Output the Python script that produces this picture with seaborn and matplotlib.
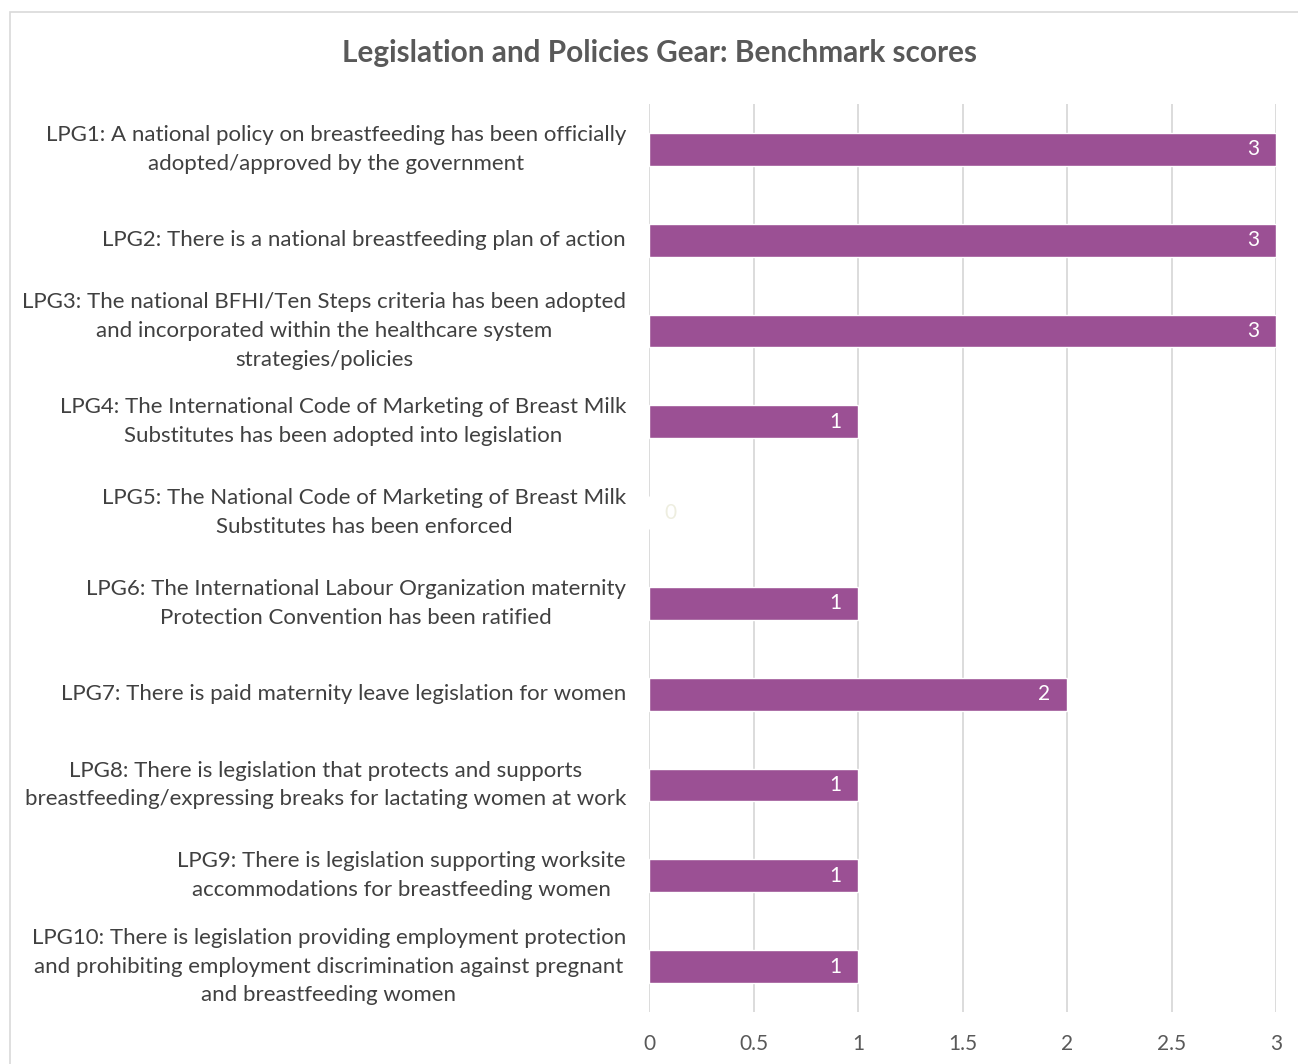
import matplotlib
matplotlib.use("Agg")
import matplotlib.pyplot as plt
import seaborn as sns
import pandas as pd
from matplotlib.patches import Rectangle

categories = [
    "LPG1: A national policy on breastfeeding has been officially\nadopted/approved by the government",
    "LPG2: There is a national breastfeeding plan of action",
    "LPG3: The national BFHI/Ten Steps criteria has been adopted\nand incorporated within the healthcare system\nstrategies/policies",
    "LPG4: The International Code of Marketing of Breast Milk\nSubstitutes has been adopted into legislation",
    "LPG5: The National Code of Marketing of Breast Milk\nSubstitutes has been enforced",
    "LPG6: The International Labour Organization maternity\nProtection Convention has been ratified",
    "LPG7: There is paid maternity leave legislation for women",
    "LPG8: There is legislation that protects and supports\nbreastfeeding/expressing breaks for lactating women at work",
    "LPG9: There is legislation supporting worksite\naccommodations for breastfeeding women",
    "LPG10: There is legislation providing employment protection\nand prohibiting employment discrimination against pregnant\nand breastfeeding women",
]
scores = [3, 3, 3, 1, 0, 1, 2, 1, 1, 1]
x_ticks = [0, 0.5, 1, 1.5, 2, 2.5, 3]
x_tick_labels = ["0", "0.5", "1", "1.5", "2", "2.5", "3"]
title = "Legislation and Policies Gear: Benchmark scores"

df = pd.DataFrame({"category": categories, "score": scores})

sns.set_theme(style="white")
plt.rcParams["font.family"] = ["Lato", "DejaVu Sans"]

W, H = 1298, 1064
fig = plt.figure(figsize=(W / 100, H / 100), dpi=100)
ax = fig.add_axes([649 / W, 1 - 1012 / H, (1276 - 649) / W, (1012 - 104) / H])

bar_color = "#9B5094"
sns.barplot(data=df, x="score", y="category", orient="h", color=bar_color,
            width=0.36, ax=ax, saturation=1)

ax.set_xlim(0, 3)
ax.set_ylim(len(categories) - 0.5, -0.5)
ax.set_xticks(x_ticks)
ax.set_xticklabels(x_tick_labels, fontsize=15, color="#595959")
ax.set_xlabel("")
ax.set_ylabel("")
ax.grid(axis="x", color="#d9d9d9", linewidth=1.3)
ax.set_axisbelow(True)
for s in ax.spines.values():
    s.set_visible(False)
ax.tick_params(axis="both", length=0)
ax.tick_params(axis="x", pad=16)
ax.tick_params(axis="y", pad=16.5)
for lbl in ax.get_yticklabels():
    lbl.set_fontsize(16)
    lbl.set_color("#404040")
    lbl.set_multialignment("center")
    lbl.set_verticalalignment("center")
    lbl.set_linespacing(1.55)

for i, v in enumerate(scores):
    if v > 0:
        ax.annotate(str(v), xy=(v, i), xytext=(-23, 0), textcoords="offset pixels",
                    ha="center", va="center", color="white", fontsize=15)
    else:
        ax.annotate(str(v), xy=(v, i), xytext=(21, 0), textcoords="offset pixels",
                    ha="center", va="center", color="#eeeee0", fontsize=15)

fig.text(660 / W, 1 - 53 / H, title, ha="center", va="center",
         fontsize=21.4, fontweight="bold", color="#595959")

fig.patches.append(Rectangle((10 / W, -0.1), 1.2, 1 - 12 / H + 0.1,
                             transform=fig.transFigure, fill=False,
                             edgecolor="#d9d9d9", linewidth=1.2))

fig.savefig("out.png", dpi=100)
